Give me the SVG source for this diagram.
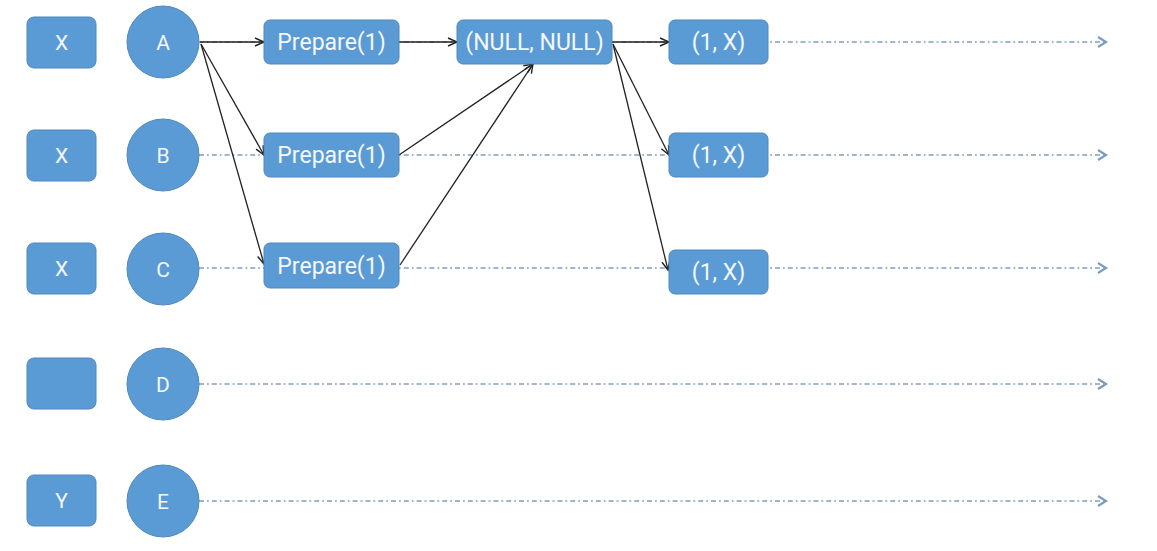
<svg xmlns="http://www.w3.org/2000/svg" width="1157" height="551" viewBox="0 0 1157 551">
  <style>
    .node { fill: #5b9bd5; stroke: #4f88bd; stroke-width: 1; }
    .label { fill: #f4f7fb; font-family: Roboto, "Liberation Sans", sans-serif; font-size: 23px; text-anchor: middle; dominant-baseline: central; }
    .small { font-size: 21px; }
    .timeline { fill: none; stroke: #9db6d1; stroke-width: 2.2; stroke-dasharray: 5 3 1.8 3; }
    .msg { fill: none; stroke: #222222; stroke-width: 1.3; }
  </style>
  <defs>
    <marker id="open" markerUnits="userSpaceOnUse" markerWidth="12" markerHeight="12" refX="10" refY="5" orient="auto">
      <path d="M1,1 L10,5 L1,9" fill="none" stroke="#222222" stroke-width="1.4"/>
    </marker>
    <marker id="openLight" markerUnits="userSpaceOnUse" markerWidth="14" markerHeight="14" refX="10" refY="6" orient="auto">
      <path d="M2,1 L10,6 L2,11" fill="none" stroke="#7b9cc0" stroke-width="2.2"/>
    </marker>
  </defs>

  <!-- timelines and messages -->
  <g id="connectors">
    <line class="timeline" x1="199" y1="42" x2="1106" y2="42" marker-end="url(#openLight)"/>
    <line class="timeline" x1="199" y1="155" x2="1106" y2="155" marker-end="url(#openLight)"/>
    <line class="timeline" x1="199" y1="268" x2="1106" y2="268" marker-end="url(#openLight)"/>
    <line class="timeline" x1="199" y1="384" x2="1106" y2="384" marker-end="url(#openLight)"/>
    <line class="timeline" x1="199" y1="501" x2="1106" y2="501" marker-end="url(#openLight)"/>

    <line class="msg" x1="200" y1="42" x2="264" y2="42" marker-end="url(#open)"/>
    <line class="msg" x1="201" y1="44" x2="264" y2="155" marker-end="url(#open)"/>
    <line class="msg" x1="201" y1="44" x2="264" y2="264" marker-end="url(#open)"/>
    <line class="msg" x1="399" y1="42" x2="457" y2="42" marker-end="url(#open)"/>
    <line class="msg" x1="399" y1="155" x2="533" y2="64" marker-end="url(#open)"/>
    <line class="msg" x1="400" y1="265" x2="533" y2="64" marker-end="url(#open)"/>
    <line class="msg" x1="612" y1="42" x2="669" y2="42" marker-end="url(#open)"/>
    <line class="msg" x1="613" y1="44" x2="669" y2="155" marker-end="url(#open)"/>
    <line class="msg" x1="613" y1="44" x2="668" y2="270" marker-end="url(#open)"/>
  </g>

  <!-- values column -->
  <g id="val-a"><rect class="node" x="27" y="17" width="69" height="51" rx="7"/><text class="label small" x="61.5" y="42.5">X</text></g>
  <g id="val-b"><rect class="node" x="27" y="130" width="69" height="51" rx="7"/><text class="label small" x="61.5" y="155.5">X</text></g>
  <g id="val-c"><rect class="node" x="27" y="243" width="69" height="51" rx="7"/><text class="label small" x="61.5" y="268.5">X</text></g>
  <g id="val-d"><rect class="node" x="27" y="358" width="69" height="51" rx="7"/></g>
  <g id="val-e"><rect class="node" x="27" y="475" width="69" height="51" rx="7"/><text class="label small" x="61.5" y="500.5">Y</text></g>

  <!-- participants -->
  <g id="node-a"><circle class="node" cx="163" cy="42" r="36"/><text class="label small" x="163" y="42.5">A</text></g>
  <g id="node-b"><circle class="node" cx="163" cy="155" r="36"/><text class="label small" x="163" y="155.5">B</text></g>
  <g id="node-c"><circle class="node" cx="163" cy="269" r="36"/><text class="label small" x="163" y="269.5">C</text></g>
  <g id="node-d"><circle class="node" cx="163" cy="384" r="36"/><text class="label small" x="163" y="384.5">D</text></g>
  <g id="node-e"><circle class="node" cx="163" cy="501" r="36"/><text class="label small" x="163" y="501.5">E</text></g>

  <!-- prepare messages -->
  <g id="prepare-1"><rect class="node" x="264" y="20" width="135" height="44" rx="6"/><text class="label" x="331.5" y="42.5">Prepare(1)</text></g>
  <g id="prepare-2"><rect class="node" x="264" y="133" width="135" height="44" rx="6"/><text class="label" x="331.5" y="155.5">Prepare(1)</text></g>
  <g id="prepare-3"><rect class="node" x="264" y="243" width="135" height="45" rx="6"/><text class="label" x="331.5" y="266">Prepare(1)</text></g>

  <!-- promise state -->
  <g id="null-null"><rect class="node" x="457" y="20" width="155" height="44" rx="6"/><text class="label" x="534.5" y="42.5">(NULL, NULL)</text></g>

  <!-- accepted values -->
  <g id="accept-1"><rect class="node" x="669" y="20" width="99" height="44" rx="6"/><text class="label" x="718.5" y="42.5">(1, X)</text></g>
  <g id="accept-2"><rect class="node" x="669" y="133" width="99" height="44" rx="6"/><text class="label" x="718.5" y="155.5">(1, X)</text></g>
  <g id="accept-3"><rect class="node" x="669" y="250" width="99" height="44" rx="6"/><text class="label" x="718.5" y="272.5">(1, X)</text></g>
</svg>
